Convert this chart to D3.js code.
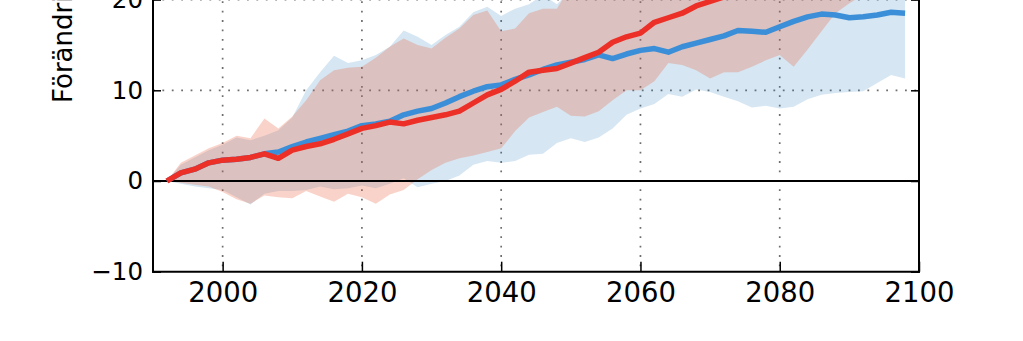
<!DOCTYPE html>
<html>
<head>
<meta charset="utf-8">
<script src="https://cdn.jsdelivr.net/npm/d3@7"></script>
<style>
  html, body { margin: 0; padding: 0; background: #fff; }
  svg { display: block; }
  text { font-family: "DejaVu Sans", sans-serif; fill: #000; }
</style>
</head>
<body>
<svg id="chart" width="1023" height="341"></svg>
<script>
// ---- Data ----
const years = [1992,1994,1996,1998,2000,2002,2004,2006,2008,2010,2012,2014,2016,2018,2020,2022,2024,2026,2028,2030,
  2032,2034,2036,2038,2040,2042,2044,2046,2048,2050,2052,2054,2056,2058,2060,2062,2064,2066,2068,2070,
  2072,2074,2076,2078,2080,2082,2084,2086,2088,2090,2092,2094,2096,2098];

const redLine = [0,0.9,1.3,2.0,2.3,2.4,2.6,3.0,2.5,3.4,3.8,4.1,4.6,5.2,5.8,6.1,6.5,6.3,6.7,7.0,
  7.3,7.7,8.6,9.5,10.1,11.0,12.0,12.2,12.4,13.0,13.6,14.2,15.3,15.9,16.3,17.5,18.0,18.5,19.3,19.8,
  20.3,21.0,21.5,22.0,22.6,23.1,23.5,24.0,24.6,25.0,25.5,26.0,26.4,26.8];

const blueLine = [0,0.9,1.3,2.0,2.3,2.4,2.6,3.0,3.2,3.8,4.3,4.7,5.1,5.5,6.1,6.3,6.6,7.3,7.7,8.0,
  8.6,9.3,9.9,10.4,10.6,11.2,11.7,12.3,12.8,13.1,13.4,13.9,13.5,14.0,14.4,14.6,14.2,14.8,15.2,15.6,
  16.0,16.6,16.5,16.4,17.0,17.6,18.1,18.4,18.3,18.0,18.1,18.3,18.6,18.5];

const redUpper = [0,2.0,2.8,3.6,4.2,5.0,4.7,6.9,5.8,7.1,8.9,11.1,12.2,12.5,12.6,13.6,14.8,15.7,15.0,14.6,
  15.8,16.8,18.3,18.8,16.5,16.8,18.5,19.0,19.0,21.5,22,23,23.5,24,25,25.5,26,27,27.5,28,
  28.5,29,29.5,30,30.5,31,31.5,32,32.5,33,33.5,34,34.5,35];

const redLower = [0,-0.2,-0.4,-0.6,-1.2,-2.0,-2.5,-1.6,-1.8,-1.9,-1.1,-1.7,-2.3,-1.4,-1.8,-2.5,-1.5,-1.0,0.2,1.2,
  2.0,2.5,2.8,3.2,3.6,5.5,7.0,7.6,8.2,7.2,7.1,7.7,8.9,10.0,10.0,11.0,13.0,12.8,12.2,11.3,
  12.0,12.0,12.6,13.3,13.9,12.6,14.5,16.5,18.5,19.6,20.5,21,21.5,21.8];

const blueUpper = [0,1.8,2.6,3.4,4.0,4.8,4.5,5.0,5.6,7.0,10.0,12.0,13.8,13.0,13.3,13.9,14.8,16.6,15.9,15.0,
  16.1,17.0,18.6,19.2,18.2,19.0,19.5,20.5,19.5,21,21.5,22,22.5,23,23.5,24,24.5,25,25.5,26,
  26.5,27,27,27.5,28,28,28.5,29,29,29.5,30,30,30.5,31];

const blueLower = [0,-0.3,-0.6,-0.8,-1.0,-1.8,-2.6,-1.4,-1.1,-1.1,-1.0,-0.6,-0.9,-0.8,-0.5,-0.8,-0.3,0.3,-0.7,-0.3,
  0.0,0.6,1.8,2.2,2.0,2.2,2.9,3.0,4.2,4.7,4.3,4.8,5.8,7.3,8.0,8.5,9.6,9.3,10.1,9.8,
  9.3,8.8,8.1,8.3,8.0,8.2,9.0,9.5,9.7,9.8,9.9,10.8,11.7,11.3];

const xTicks = [2000, 2020, 2040, 2060, 2080, 2100];
const xGrid = [2000, 2020, 2040, 2060, 2080];
const yTicks = [-10, 0, 10, 20];
const yGrid = [10, 20];
const yLabel = "Förändring (%)";

// ---- Layout ----
const svg = d3.select("#chart");
const x = d3.scaleLinear().domain([1990, 2100]).range([153, 919]);
const y = d3.scaleLinear().domain([-10, 20]).range([271.7, -0.4]);
const yTop = 40;

svg.append("clipPath").attr("id", "plotclip")
  .append("rect")
  .attr("x", x(1990)).attr("y", y(yTop))
  .attr("width", x(2100) - x(1990)).attr("height", y(-10) - y(yTop));

const plot = svg.append("g").attr("clip-path", "url(#plotclip)");

// grid
plot.selectAll(".vgrid").data(xGrid).enter().append("line")
  .attr("x1", d => x(d)).attr("x2", d => x(d))
  .attr("y1", y(-10)).attr("y2", y(yTop))
  .attr("stroke", "#6e6e6e").attr("stroke-width", 1.7)
  .attr("stroke-dasharray", "1.8,7.6")
  .attr("stroke-dashoffset", 4);
plot.selectAll(".hgrid").data(yGrid).enter().append("line")
  .attr("x1", x(1990)).attr("x2", x(2100))
  .attr("y1", d => y(d)).attr("y2", d => y(d))
  .attr("stroke", "#6e6e6e").attr("stroke-width", 1.7)
  .attr("stroke-dasharray", "1.8,7.6");

const rows = years.map((yr, i) => ({yr, rl: redLine[i], bl: blueLine[i], ru: redUpper[i], rlo: redLower[i], bu: blueUpper[i], blo: blueLower[i]}));

// bands
const blueArea = d3.area().x(d => x(d.yr)).y0(d => y(d.blo)).y1(d => y(d.bu));
const redArea = d3.area().x(d => x(d.yr)).y0(d => y(d.rlo)).y1(d => y(d.ru));
plot.append("path").datum(rows).attr("d", blueArea)
  .attr("fill", "#3182bd").attr("fill-opacity", 0.2);
plot.append("path").datum(rows).attr("d", redArea)
  .attr("fill", "#e8603c").attr("fill-opacity", 0.28);

// zero line
plot.append("line")
  .attr("x1", x(1990)).attr("x2", x(2100))
  .attr("y1", y(0)).attr("y2", y(0))
  .attr("stroke", "#000").attr("stroke-width", 2);

// lines
const blueGen = d3.line().x(d => x(d.yr)).y(d => y(d.bl));
const redGen = d3.line().x(d => x(d.yr)).y(d => y(d.rl));
plot.append("path").datum(rows).attr("d", blueGen)
  .attr("fill", "none").attr("stroke", "#3b8ed8").attr("stroke-width", 5.5)
  .attr("stroke-linejoin", "round");
plot.append("path").datum(rows).attr("d", redGen)
  .attr("fill", "none").attr("stroke", "#ec3027").attr("stroke-width", 5.5)
  .attr("stroke-linejoin", "round");

// axes (inward ticks)
const xAxis = d3.axisBottom(x).tickValues(xTicks).tickFormat(d3.format("d"))
  .tickSizeInner(-10).tickSizeOuter(0).tickPadding(11);
const gx = svg.append("g").attr("transform", `translate(0,${y(-10)})`).call(xAxis);
gx.select(".domain").remove();
gx.selectAll(".tick line").attr("stroke", "#000").attr("stroke-width", 1.5);
gx.selectAll(".tick text").attr("font-size", 27.5).attr("font-family", "DejaVu Sans").attr("fill", "#000");

const fmtY = d => d < 0 ? "\u2212" + Math.abs(d) : String(d);
const yAxis = d3.axisLeft(y).tickValues(yTicks).tickFormat(fmtY)
  .tickSizeInner(-8).tickSizeOuter(0).tickPadding(10);
const gy = svg.append("g").attr("transform", `translate(${x(1990)},0)`).call(yAxis);
gy.select(".domain").remove();
gy.selectAll(".tick line").attr("stroke", "#000").attr("stroke-width", 1.5);
gy.selectAll(".tick text").attr("font-size", 24.5).attr("font-family", "DejaVu Sans").attr("fill", "#000");

const yAxisR = d3.axisRight(y).tickValues(yTicks).tickFormat("")
  .tickSizeInner(-8).tickSizeOuter(0);
const gyr = svg.append("g").attr("transform", `translate(${x(2100)},0)`).call(yAxisR);
gyr.select(".domain").remove();
gyr.selectAll(".tick line").attr("stroke", "#000").attr("stroke-width", 1.5);

// spines
svg.append("line").attr("x1", x(1990)).attr("x2", x(1990)).attr("y1", y(yTop)).attr("y2", y(-10) + 1)
  .attr("stroke", "#000").attr("stroke-width", 2);
svg.append("line").attr("x1", x(2100)).attr("x2", x(2100)).attr("y1", y(yTop)).attr("y2", y(-10) + 1)
  .attr("stroke", "#000").attr("stroke-width", 2);
svg.append("line").attr("x1", x(1990) - 1).attr("x2", x(2100) + 1).attr("y1", y(-10)).attr("y2", y(-10))
  .attr("stroke", "#000").attr("stroke-width", 2);

// y label
svg.append("text")
  .attr("transform", `translate(72,103) rotate(-90)`)
  .attr("text-anchor", "start")
  .attr("font-size", 26)
  .text(yLabel);
</script>
</body>
</html>
